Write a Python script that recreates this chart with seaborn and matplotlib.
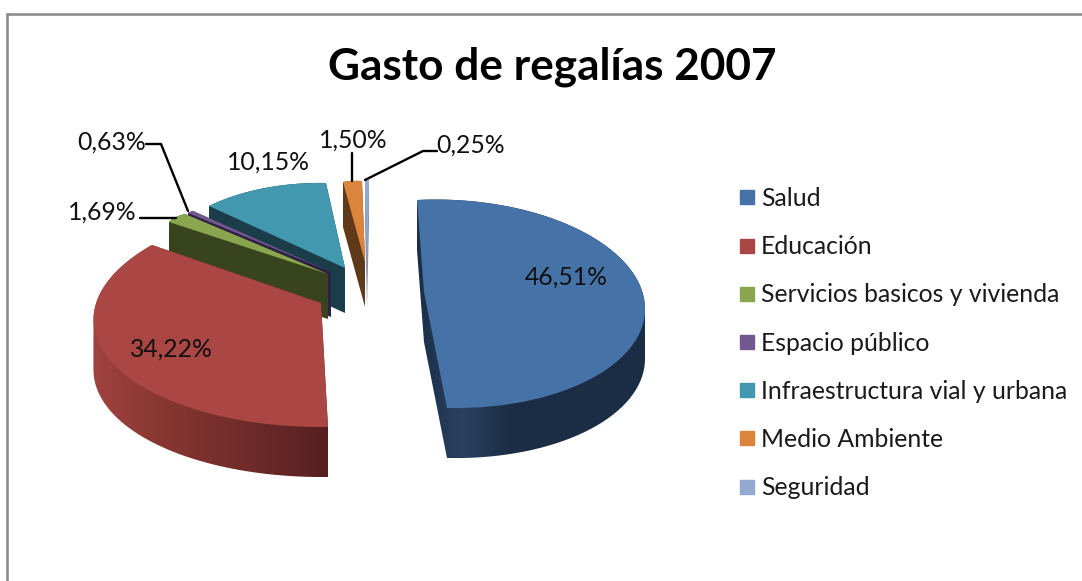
import numpy as np
import matplotlib
matplotlib.use("Agg")
import matplotlib.pyplot as plt
import seaborn as sns
from matplotlib.colors import LinearSegmentedColormap
from matplotlib.lines import Line2D
from matplotlib.path import Path
from matplotlib.transforms import Transform

# ---- data ----
categories = ["Salud", "Educación", "Servicios basicos y vivienda", "Espacio público",
              "Infraestructura vial y urbana", "Medio Ambiente", "Seguridad"]
values = [46.51, 34.22, 1.69, 0.63, 10.15, 1.50, 0.25]
title = "Gasto de regalías 2007"
palette = ["#4572A7", "#AA4643", "#89A54E", "#71588F", "#4198AF", "#DB843D", "#93A9CF"]

# ---- look of the 3-D drawing, one row per slice (pixels of the picture) ----
apex = [(424, 292), (321, 303), (328, 274), (331, 272), (345, 268), (365, 262), (367, 264)]
arc_start = [(417, 200), (328, 427), (169, 222), (188, 213), (209, 206), (343, 182), (365, 180)]
arc_mid = [(641, 288), (108, 358), (176, 217), (190, 212), (265, 188), (352, 181), (367, 180)]
arc_end = [(447, 408), (152, 245), (185, 214), (193, 211), (326, 183), (362, 181), (369, 180)]
depth = [50, 50, 45, 45, 45, 45, 44]
wall_colors = [["#1A2E49", "#2A415F", "#1B2E46", "#1A2D45", "#1A2D45", "#1A2D45"],
               ["#A04240", "#85352F", "#6E2B2A", "#571F1F"],
               ["#39441F", "#39441F"], ["#2C2045", "#2C2045"],
               ["#1B3D4A", "#1B3D4A"], ["#603A18", "#603A18"], ["#8A97AE", "#8A97AE"]]
draw_order = [6, 5, 4, 3, 2, 1, 0]
label_pos = [(566, 277), (171, 349), (102, 212), (112, 142), (268, 162), (353, 140), (471, 145)]
leaders = [None, None, [(140, 218), (176, 218)], [(146, 144), (161, 144), (188, 211)],
           None, [(352, 153), (352, 181)], [(437, 151), (423, 151), (365, 180)]]

FONT = "Lato"
sns.set_theme(style="white")
plt.rcParams["font.family"] = [FONT, "DejaVu Sans"]


class Homography(Transform):
    input_dims = 2
    output_dims = 2
    is_separable = False
    has_inverse = False

    def __init__(self, src, dst):
        super().__init__()
        rows = []
        for (x, y), (u, v) in zip(src, dst):
            rows.append([x, y, 1, 0, 0, 0, -u * x, -u * y, -u])
            rows.append([0, 0, 0, x, y, 1, -v * x, -v * y, -v])
        self.m = np.linalg.svd(np.array(rows, float))[2][-1].reshape(3, 3)

    def transform_non_affine(self, pts):
        pts = np.asarray(pts, float)
        q = np.c_[pts, np.ones(len(pts))] @ self.m.T
        return q[:, :2] / q[:, 2:3]


def hull(points):
    pts = sorted(map(tuple, points))
    def half(seq):
        out = []
        for p in seq:
            while len(out) > 1:
                a, b = np.subtract(out[-1], out[-2]), np.subtract(p, out[-1])
                if a[0] * b[1] - a[1] * b[0] > 0:
                    break
                out.pop()
            out.append(p)
        return out[:-1]
    return half(pts) + half(pts[::-1])


fig = plt.figure(figsize=(10.82, 5.81), dpi=100, facecolor="white")
ax = fig.add_axes([0, 0, 1, 1])
wedges, _ = ax.pie(values, colors=sns.color_palette(palette), startangle=90, counterclock=False, radius=1)
ax.set_aspect("auto")

for rank, i in enumerate(draw_order):
    w = wedges[i]
    unit = lambda deg: (np.cos(np.radians(deg)), np.sin(np.radians(deg)))
    src = [(0, 0), unit(w.theta2), unit((w.theta1 + w.theta2) / 2), unit(w.theta1)]
    h = Homography(src, [apex[i], arc_start[i], arc_mid[i], arc_end[i]])
    w.set_transform(h + ax.transData)
    w.set_zorder(2 * rank + 3)
    w.set_linewidth(0)

    # side wall: the top face swept downwards, filled with a gradient
    angles = np.linspace(w.theta1, w.theta2, 80)
    top = h.transform_non_affine(np.r_[[(0, 0)], [unit(a) for a in angles]])
    swept = np.r_[top, top + [0, depth[i]]]
    outline = hull(swept)
    clip = Path(np.r_[outline, [outline[0]]], closed=True)
    x0, x1 = swept[:, 0].min(), swept[:, 0].max()
    y0, y1 = swept[:, 1].min(), swept[:, 1].max()
    cmap = LinearSegmentedColormap.from_list(f"wall{i}", wall_colors[i])
    im = ax.imshow(np.linspace(0, 1, 256)[None, :], cmap=cmap, extent=(x0, x1, y1, y0),
                   aspect="auto", zorder=2 * rank + 2, interpolation="bilinear")
    im.set_clip_path(clip, transform=ax.transData)

ax.set_xlim(0, 1082)
ax.set_ylim(581, 0)
ax.axis("off")

# frame of the chart area, open to the right and below
ax.add_line(Line2D([7, 7, 1082], [581, 13.5, 13.5], color="#8C8C8C", lw=1.9, zorder=1, solid_joinstyle="miter"))

ax.text(552, 67, title, ha="center", va="center", fontsize=31.8, fontweight="bold", color="black", zorder=30)

for i, v in enumerate(values):
    ax.text(*label_pos[i], f"{v:.2f}%".replace(".", ","), ha="center", va="center", fontsize=17.8,
            color="#111111", zorder=30)
    if leaders[i]:
        xs, ys = zip(*leaders[i])
        ax.add_line(Line2D(xs, ys, color="black", lw=1.7, zorder=29))

legend_handles = [Line2D([], [], marker="s", ls="", color=c, markersize=10.5) for c in palette]
ax.legend(legend_handles, categories, loc="upper left", bbox_to_anchor=(735 / 1082, 1 - 187 / 581),
          frameon=False, fontsize=17.8, labelspacing=1.02, handletextpad=0.045, handlelength=1.0,
          borderpad=0, borderaxespad=0, labelcolor="#1A1A1A")

fig.savefig("out.png", dpi=100)
